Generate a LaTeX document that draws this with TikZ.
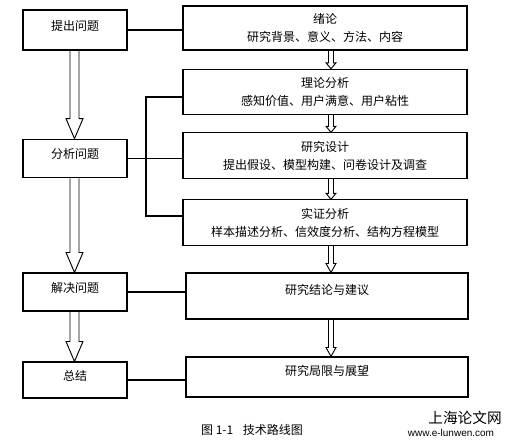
\documentclass[tikz,border=0pt]{standalone}
\usepackage{fontspec}
\setmainfont{Noto Sans CJK SC}
\newfontfamily\urlfont{Liberation Sans}
\usetikzlibrary{calc}

\tikzset{
  box/.style={draw, line width=0.8pt, minimum width=#1, inner sep=0pt, align=center,
    font=\fontsize{9}{13.5}\selectfont},
  leftbox/.style={box=78pt, minimum height=29pt, text height=7pt, text depth=7pt},
  rightbox/.style={box=213pt, minimum height=34pt},
  onebox/.style={box=211.5pt, text height=7pt, text depth=9pt},
  link/.style={line width=0.9pt},
  hollow/.style={line width=0.7pt}
}
% from, to, x, shaft half width, head half width, head length
\newcommand{\hollowarrow}[6]{%
  \draw[hollow] ($(#1.south -| #3,0)+(-#4,0)$) -- ($(#2.north -| #3,0)+(-#4,-#6)$)
    -- ($(#2.north -| #3,0)+(-#5,-#6)$) -- (#2.north -| #3,0)
    -- ($(#2.north -| #3,0)+(#5,-#6)$) -- ($(#2.north -| #3,0)+(#4,-#6)$)
    -- ($(#1.south -| #3,0)+(#4,0)$);}

\begin{document}
\begin{tikzpicture}[x=0.75pt,y=-0.75pt]
  \useasboundingbox (0,0) rectangle (510,446);
  % left column
  \node[leftbox, minimum height=30pt] (tcwt) at (75,30) {提出问题};
  \node[leftbox] (fxwt) at (75,158.5) {分析问题};
  \node[leftbox, minimum height=28.5pt] (jjwt) at (75,292) {解决问题};
  \node[leftbox, minimum height=27pt] (zj) at (75,380) {总结};
  % right column
  \node[rightbox, minimum height=33pt] (xl) at (325,28) {绪论\\研究背景、意义、方法、内容};
  \node[rightbox] (llfx) at (325,92) {理论分析\\感知价值、用户满意、用户粘性};
  \node[rightbox] (yjsj) at (325,155.5) {研究设计\\提出假设、模型构建、问卷设计及调查};
  \node[rightbox] (szfx) at (325,222.5) {实证分析\\样本描述分析、信效度分析、结构方程模型};
  \node[onebox, minimum height=34.5pt] (jljy) at (327,296) {研究结论与建议};
  \node[onebox, minimum height=30pt] (jxzw) at (327,377) {研究局限与展望};

  % connectors
  \draw[link] (tcwt.east) -- (xl.west |- tcwt.east);
  \draw[link] (fxwt.east) -- (yjsj.west |- fxwt.east);
  \draw[link] (llfx.west |- 0,97) -- (146,97) -- (146,216) -- (szfx.west |- 0,216);
  \draw[link] (jjwt.east) -- (jljy.west |- jjwt.east);
  \draw[link] (zj.east) -- (jxzw.west |- zj.east);

  % hollow arrows
  \hollowarrow{tcwt}{fxwt}{74.5}{4.5}{8.5}{20}
  \hollowarrow{fxwt}{jjwt}{74.5}{4.5}{8.5}{20}
  \hollowarrow{jjwt}{zj}{74.5}{4.5}{8.5}{20}
  \hollowarrow{xl}{llfx}{331}{2.5}{5}{6}
  \hollowarrow{llfx}{yjsj}{331}{2.5}{5}{6}
  \hollowarrow{yjsj}{szfx}{331}{2.5}{5}{6}
  \hollowarrow{szfx}{jljy}{331}{2.5}{5}{9}
  \hollowarrow{jljy}{jxzw}{331}{2.5}{5}{9}

  % caption and mark
  \node[font=\fontsize{9}{11}\selectfont] (cap) at (252,430) {图 1-1\hspace{0.8em}技术路线图};
  \node[font=\fontsize{11}{13}\selectfont] (mark) at (465,418) {上海论文网};
  \node[font=\urlfont\fontsize{7.5}{9}\selectfont] (url) at (451,433) {www.e-lunwen.com};
\end{tikzpicture}
\end{document}
